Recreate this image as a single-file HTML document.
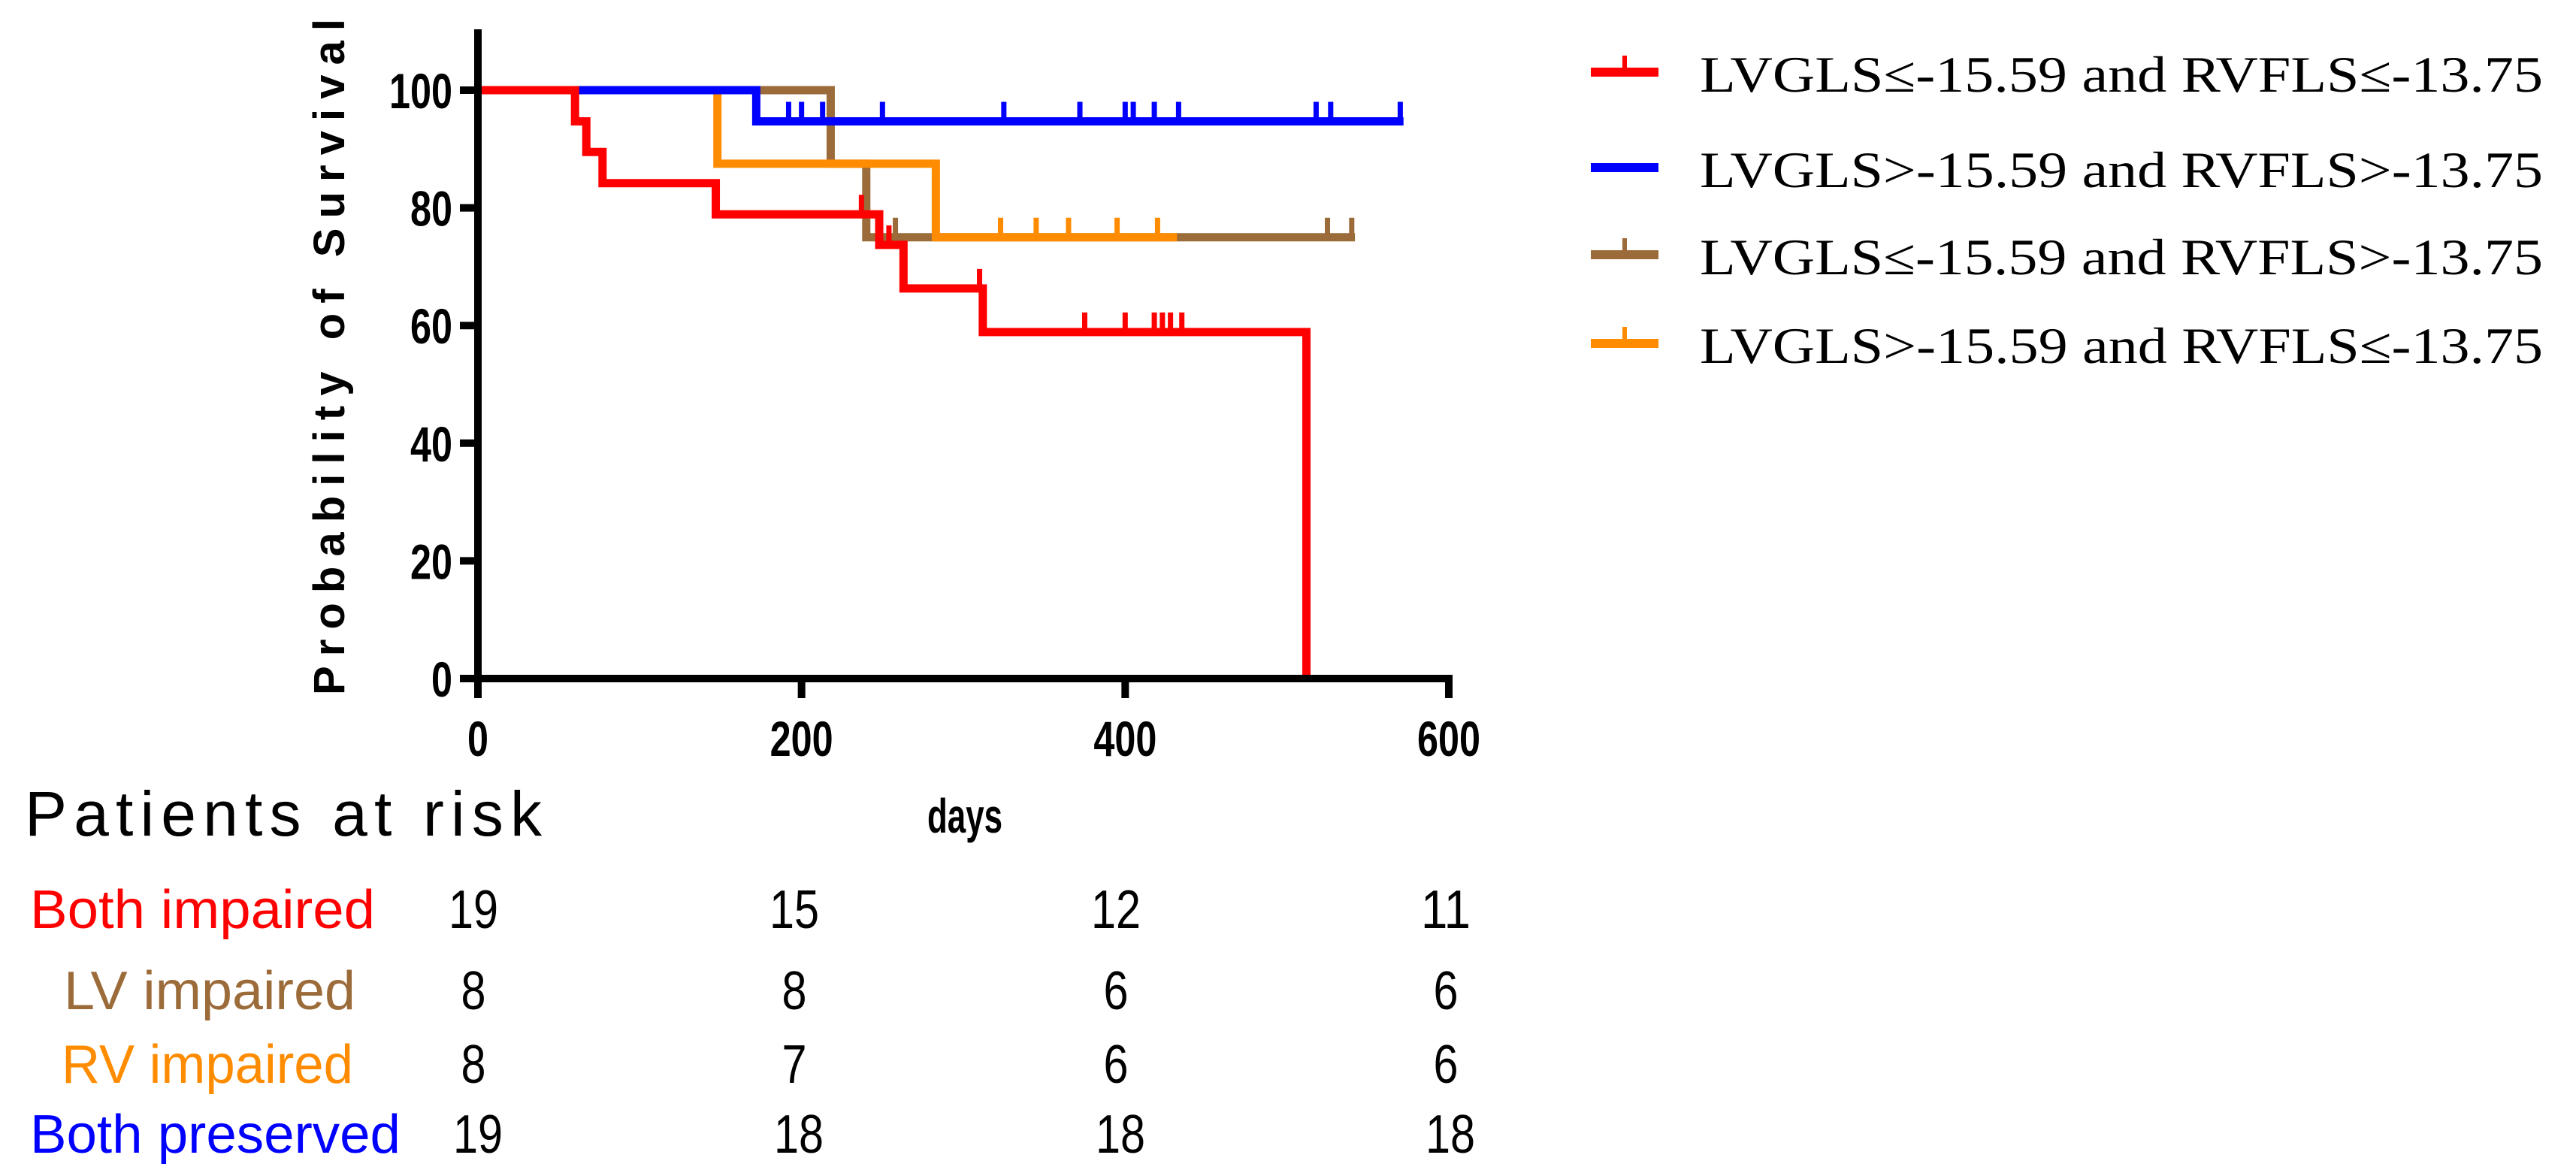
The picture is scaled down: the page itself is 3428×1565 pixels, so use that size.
<!DOCTYPE html>
<html><head><meta charset="utf-8"><style>
html,body{margin:0;padding:0;background:#fff;}
svg{display:block;}
text{font-family:"Liberation Sans",Arial,sans-serif;}
</style></head><body>
<svg id="chart" width="3428" height="1565" viewBox="0 0 3428 1565" xmlns="http://www.w3.org/2000/svg">
<g id="plot"></g>
<g id="axes"></g>
<g id="legend"></g>
<g id="risk"></g>
</svg>
<script>
// ---- data ----
const xTicks = [0, 200, 400, 600];
const yTicks = [0, 20, 40, 60, 80, 100];
const redTimes = [0, 60, 67, 77, 147, 248, 263, 312, 512];
const redSurv  = [100, 94.7, 89.5, 84.2, 78.9, 73.7, 66.3, 58.9, 0];
const redEnd = 512;
const redCensor = [237, 254, 310, 375, 400, 418, 423, 428, 435];
const blueTimes = [0, 172];
const blueSurv  = [100, 94.7];
const blueEnd = 572;
const blueCensor = [192, 200, 213, 250, 325, 372, 400, 405, 418, 433, 518, 527, 570];
const brownTimes = [0, 218, 240];
const brownSurv  = [100, 87.5, 75];
const brownEnd = 542;
const brownCensor = [258, 525, 540];
const orangeTimes = [0, 148, 283];
const orangeSurv  = [100, 87.5, 75];
const orangeEnd = 432;
const orangeCensor = [323, 345, 365, 395, 420];
const legendLabels = ["LVGLS≤-15.59 and RVFLS≤-13.75","LVGLS>-15.59 and RVFLS>-13.75","LVGLS≤-15.59 and RVFLS>-13.75","LVGLS>-15.59 and RVFLS≤-13.75"];
const riskGroups = ["Both impaired","LV impaired","RV impaired","Both preserved"];
const riskBoth = [19, 15, 12, 11];
const riskLV = [8, 8, 6, 6];
const riskRV = [8, 7, 6, 6];
const riskPres = [19, 18, 18, 18];

const NS = "http://www.w3.org/2000/svg";
const X0 = 636, X1 = 1928, Y0 = 903, Y100 = 120;
const xs = d => X0 + d * (X1 - X0) / 600;
const ys = v => Y0 - v * (Y0 - Y100) / 100;
function mk(tag, attrs, parent, txt){ const e=document.createElementNS(NS,tag); for(const k in attrs) e.setAttribute(k,attrs[k]); if(txt!==undefined) e.textContent=txt; parent.appendChild(e); return e; }
const plot=document.getElementById('plot'), axes=document.getElementById('axes'), legend=document.getElementById('legend'), risk=document.getElementById('risk');

function survAt(times, surv, t){ let v=surv[0]; for(let i=0;i<times.length;i++){ if(times[i]<=t) v=surv[i]; } return v; }
function series(times, surv, end, censor, color, name){
  let d = "M"+xs(times[0])+","+ys(surv[0]);
  for(let i=1;i<times.length;i++){ d += " H"+xs(times[i])+" V"+ys(surv[i]); }
  d += " H"+xs(end);
  const p = mk('path',{d:d,fill:'none',stroke:color,'stroke-width':11,'stroke-linejoin':'miter'},plot);
  
  
  censor.forEach(c=>{
    const v = survAt(times, surv, c);
    const t = mk('line',{x1:xs(c),x2:xs(c),y1:ys(v),y2:ys(v)-26,stroke:color,'stroke-width':7},plot);
    
    
  });
}
series(brownTimes, brownSurv, brownEnd, brownCensor, '#9c6b3a', 'lv-impaired');
series(orangeTimes, orangeSurv, orangeEnd, orangeCensor, '#ff8c00', 'rv-impaired');
series(blueTimes, blueSurv, blueEnd, blueCensor, '#0000ff', 'both-preserved');
series(redTimes, redSurv, redEnd, redCensor, '#ff0000', 'both-impaired');

// axes
let a = mk('line',{x1:X0,x2:X0,y1:39,y2:Y0+5,stroke:'#000','stroke-width':10},axes);
 
a = mk('line',{x1:X0-5,x2:X1+5,y1:Y0,y2:Y0,stroke:'#000','stroke-width':10},axes);
 
yTicks.forEach(v=>{
  const l=mk('line',{x1:X0-24,x2:X0,y1:ys(v),y2:ys(v),stroke:'#000','stroke-width':10},axes);
   
  const s=String(v);
  const t=mk('text',{x:X0-34-s.length*28,y:ys(v)+24,'font-size':66,'font-weight':'bold',textLength:s.length*28,lengthAdjust:'spacingAndGlyphs'},axes,s);
   
});
xTicks.forEach(v=>{
  const l=mk('line',{x1:xs(v),x2:xs(v),y1:Y0,y2:Y0+26,stroke:'#000','stroke-width':10},axes);
   
  const s=String(v);
  const t=mk('text',{x:xs(v)-s.length*14,y:1006,'font-size':66,'font-weight':'bold',textLength:s.length*28,lengthAdjust:'spacingAndGlyphs'},axes,s);
   
});
let yt = mk('text',{x:0,y:0,transform:'translate(458,475) rotate(-90)','text-anchor':'middle','font-size':58,'font-weight':'bold',textLength:900,lengthAdjust:'spacing'},axes,'Probability of Survival');
 
let xt = mk('text',{x:1234,y:1108,'font-size':64,'font-weight':'bold',textLength:100,lengthAdjust:'spacingAndGlyphs'},axes,'days');
 

// legend
const legColors=['#ff0000','#0000ff','#9c6b3a','#ff8c00'];
const legY=[96,223,339,457];
legendLabels.forEach((lab,i)=>{
  const g=mk('g',{},legend);
   
  mk('line',{x1:2117,x2:2207,y1:legY[i],y2:legY[i],stroke:legColors[i],'stroke-width':12},g);
  if(i!==1) mk('line',{x1:2162,x2:2162,y1:legY[i],y2:legY[i]-22,stroke:legColors[i],'stroke-width':6},g);
  mk('text',{x:2262,y:legY[i]+26,'font-size':68,textLength:1122,lengthAdjust:'spacingAndGlyphs',style:'font-family:"Liberation Serif","Noto Serif CJK SC",serif'},g,lab);
});

// risk table
let rt = mk('text',{x:33,y:1112,'font-size':84,textLength:688,lengthAdjust:'spacing'},risk,'Patients at risk');
 
const rowY=[1235,1343,1441,1534];
const rowColors=['#ff0000','#9c6b3a','#ff8c00','#0000ff'];
const rowX=[40,85,82,40];
const rowW=[459,388,388,493];
const rows=[riskBoth,riskLV,riskRV,riskPres];
const colX=[630,1057,1485,1924];
riskGroups.forEach((g,i)=>{
  const t=mk('text',{x:rowX[i],y:rowY[i],'font-size':72,fill:rowColors[i],textLength:rowW[i],lengthAdjust:'spacingAndGlyphs'},risk,g);
   
  rows[i].forEach((n,j)=>{
    const s=String(n), w=s.length*33;
    const c=mk('text',{x:colX[j]+(i===3?6:0)-w/2,y:rowY[i],'font-size':72,textLength:w,lengthAdjust:'spacingAndGlyphs'},risk,s);
     
  });
});
</script>
</body></html>
